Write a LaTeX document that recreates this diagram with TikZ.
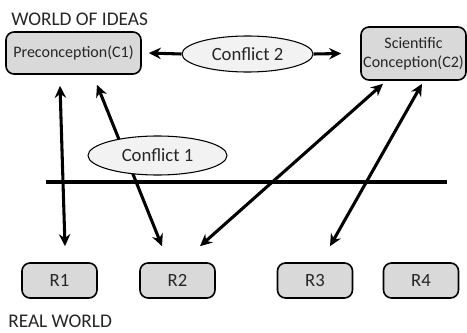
\documentclass[tikz,border=0pt]{standalone}
\usepackage{fontspec}
\setmainfont{Carlito}
\usepackage{xcolor}
\usetikzlibrary{shapes,shapes.geometric,arrows.meta,positioning,calc}

\definecolor{boxgray}{HTML}{D9D9D9}
\definecolor{ovalgray}{HTML}{F2F2F2}
\definecolor{inkgray}{HTML}{262626}

\begin{document}
\begin{tikzpicture}[
  x=0.75pt,y=-0.75pt,
  idea/.style={draw,line width=1.2pt,rounded corners=6pt,fill=boxgray,inner sep=0pt,align=center,text=inkgray,font=\fontsize{12}{14.6}\selectfont},
  real/.style={draw,line width=1.2pt,rounded corners=6pt,fill=boxgray,inner sep=0pt,minimum width=56.25pt,minimum height=26.25pt,text=inkgray,font=\fontsize{14}{17}\selectfont},
  conflict/.style={draw,ellipse,line width=0.8pt,fill=ovalgray,inner sep=0pt,text=inkgray,font=\fontsize{14}{17}\selectfont},
  title/.style={anchor=base west,inner sep=0pt,text=inkgray,font=\fontsize{14.5}{17}\selectfont},
  arrow/.style={{Stealth[length=9pt,width=8.5pt]}-{Stealth[length=9pt,width=8.5pt]},line width=2.3pt},
  tip/.style={-{Stealth[length=9pt,width=8.5pt]},line width=2.3pt}
]
\useasboundingbox (0,0) rectangle (467,332);

\node[title] (ideas) at (11,25) {WORLD OF IDEAS};
\node[title] (world) at (8,327.5) {REAL WORLD};

\node[idea,minimum width=101.25pt,minimum height=31.5pt] (pre) at (73.5,53) {Preconception(C1)};
\node[idea,minimum width=78.75pt,minimum height=39.75pt] (sci) at (413.5,53.5) {Scientific\\Conception(C2)};
\node[conflict,minimum width=98.25pt,minimum height=27pt] (c2) at (247.5,54) {Conflict 2};

\node[real] (r1) at (59.5,280.5) {R1};
\node[real] (r2) at (177.5,280.5) {R2};
\node[real] (r3) at (315,280.5) {R3};
\node[real] (r4) at (421,280.5) {R4};

% divider between the two worlds
\draw[line width=3pt] (46,182) -- (447,182);

\draw[tip] (c2.west) -- ($(pre.east)+(7,0)$);
\draw[tip] (c2.east) -- ($(sci.west)+(-19,0)$);

\draw[arrow] ($(pre.south)+(-13.5,11)$) -- ($(r1.north)+(5.5,-16)$);
\draw[arrow] ($(pre.south)+(23.5,10)$) -- ($(r2.north)+(-15.5,-16)$);
\draw[arrow] ($(r2.north)+(22.5,-16)$) -- ($(sci.south)+(-30.5,3)$);
\draw[arrow] ($(r3.north)+(15,-16)$) -- ($(sci.south)+(8.5,3)$);

\node[conflict,minimum width=104.25pt,minimum height=29.25pt] (c1) at (157.5,155.5) {Conflict 1};
\end{tikzpicture}
\end{document}
